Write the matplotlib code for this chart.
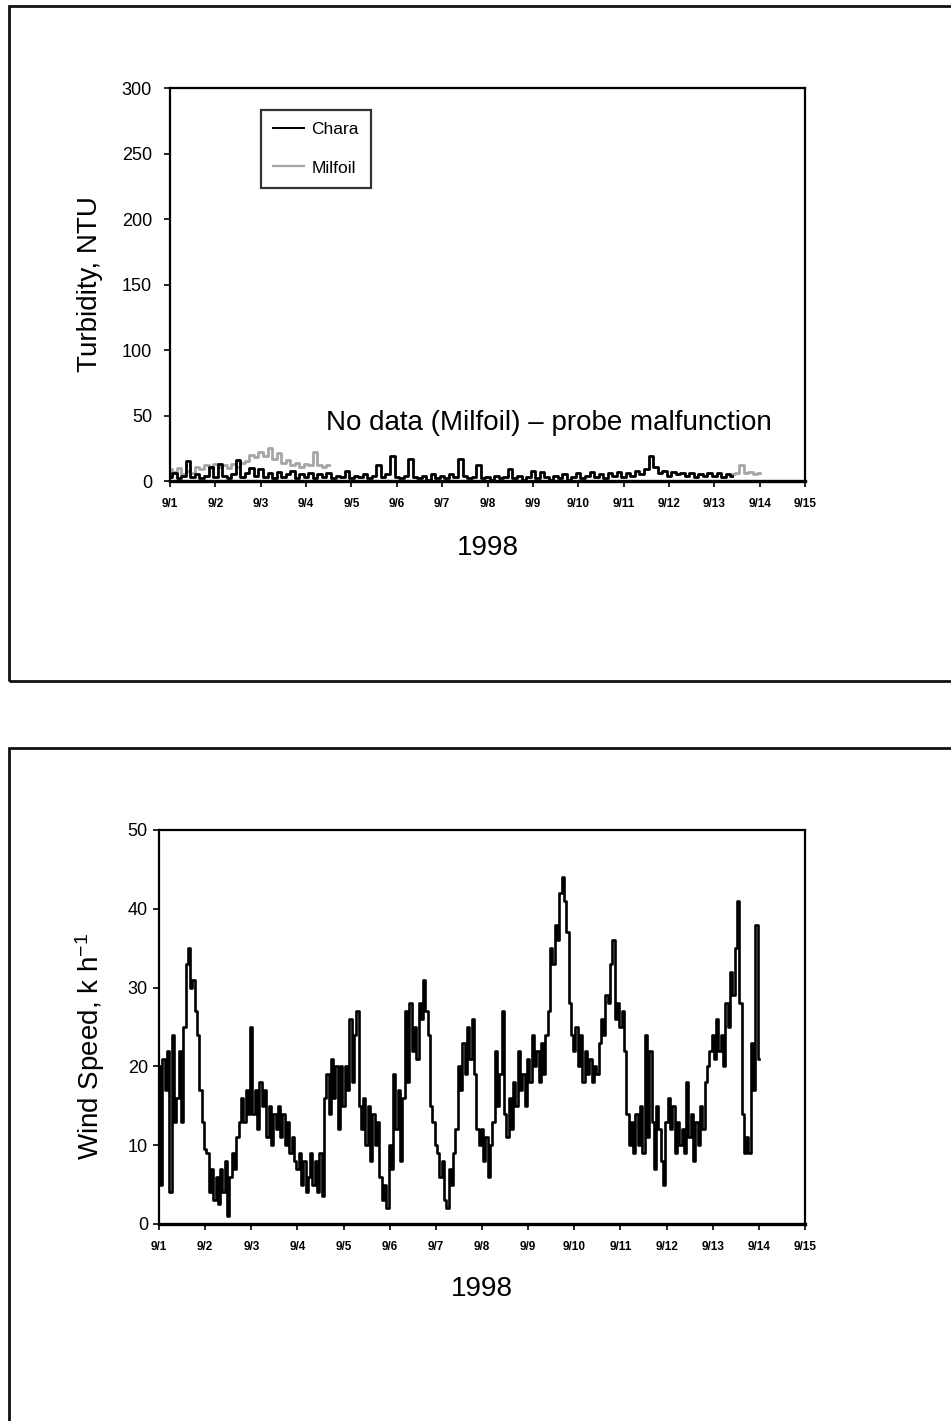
import numpy as np
import matplotlib
matplotlib.use('Agg')
import matplotlib.pyplot as plt
from matplotlib.patches import Rectangle
from matplotlib.lines import Line2D

plt.rcParams['font.family'] = ['Liberation Sans', 'DejaVu Sans']
plt.rcParams['mathtext.default'] = 'regular'

# ---------------- data ----------------
date_labels = ['9/1', '9/2', '9/3', '9/4', '9/5', '9/6', '9/7', '9/8',
               '9/9', '9/10', '9/11', '9/12', '9/13', '9/14', '9/15']
year_label = '1998'

# Turbidity (NTU), sampled every 0.1 day from 9/1
turb_step = 0.1
chara_start = 0.0
chara = [3, 6, 2, 4, 15, 3, 5, 2, 4, 11,
         3, 13, 4, 2, 5, 16, 3, 6, 10, 4,
         9, 3, 6, 2, 7, 3, 5, 8, 2, 5,
         3, 6, 2, 5, 3, 6, 2, 4, 3, 8,
         2, 4, 3, 5, 2, 4, 12, 3, 5, 19,
         3, 2, 4, 17, 3, 2, 4, 1, 5, 2,
         4, 2, 5, 3, 17, 4, 2, 3, 12, 2,
         3, 1, 4, 2, 3, 9, 2, 4, 1, 3,
         8, 2, 7, 3, 1, 4, 2, 5, 1, 3,
         6, 2, 4, 7, 3, 5, 2, 6, 4, 7,
         3, 6, 4, 8, 5, 9, 19, 11, 6, 8,
         4, 7, 5, 6, 4, 6, 3, 5, 4, 6,
         4, 6, 3, 5, 4]
milfoil_a_start = 0.0
milfoil_a = [9, 7, 10, 5, 8, 6, 11, 9, 12, 10,
             13, 11, 12, 10, 13, 11, 14, 15, 20, 18,
             22, 19, 25, 17, 21, 14, 16, 12, 14, 11,
             13, 12, 22, 12, 11, 12]
milfoil_b_start = 12.4
milfoil_b = [5, 6, 12, 6, 7, 5, 6]
turb_yticks = [0, 50, 100, 150, 200, 250, 300]
turb_note = 'No data (Milfoil) \u2013 probe malfunction'

# Wind speed (k/h), sampled every 0.05 day from 9/1
wind_start = 0.0
wind_step = 0.05
wind = [20, 5, 21, 17, 22, 4, 24, 13, 16, 22, 13, 25, 33, 35, 30, 31, 27, 24, 17, 13,
        9.5, 9, 4, 7, 3, 6, 2.5, 7, 4, 8, 1, 6, 9, 7, 11, 13, 16, 13, 17, 14,
        25, 14, 17, 12, 18, 15, 17, 11, 15, 10, 14, 12, 15, 11, 14, 10, 13, 9, 11, 8,
        7, 9, 5, 8, 4, 6, 9, 5, 8, 4, 9, 3.5, 16, 19, 14, 21, 16, 20, 12, 20,
        15, 20, 17, 26, 18, 24, 27, 15, 12, 16, 10, 15, 8, 14, 10, 13, 6, 3, 5, 2,
        10, 7, 19, 12, 17, 8, 16, 27, 18, 28, 22, 25, 21, 28, 26, 31, 27, 24, 15, 13,
        10, 9, 6, 8, 3, 2, 7, 5, 9, 12, 20, 17, 23, 19, 25, 21, 26, 19, 12, 10,
        12, 8, 11, 6, 10, 13, 22, 15, 19, 27, 14, 11, 16, 12, 18, 15, 22, 17, 19, 15,
        21, 18, 24, 20, 22, 18, 23, 19, 24, 27, 35, 33, 38, 36, 42, 44, 41, 37, 28, 24,
        22, 25, 20, 24, 18, 22, 19, 21, 18, 20, 19, 23, 26, 24, 29, 28, 33, 36, 26, 28,
        25, 27, 22, 14, 10, 13, 9, 14, 10, 15, 9, 24, 11, 22, 13, 7, 15, 12, 8, 5,
        13, 16, 12, 15, 9, 13, 10, 12, 9, 18, 11, 14, 8, 13, 10, 15, 12, 18, 20, 22,
        24, 21, 26, 22, 24, 20, 28, 25, 32, 29, 35, 41, 28, 14, 9, 11, 9, 23, 17, 38,
        21]
wind_yticks = [0, 10, 20, 30, 40, 50]

# ---------------- figure ----------------
W, H = 951, 1421
fig = plt.figure(figsize=(W / 100, H / 100), dpi=100)
fig.patch.set_facecolor('white')

# panel frames
fig.add_artist(Rectangle((9 / W, 1 - 681 / H), 1.0, (681 - 6) / H,
                         transform=fig.transFigure, fill=False, lw=2.0,
                         ec='#111111'))
fig.add_artist(Rectangle((9 / W, -0.05), 1.0, 0.05 + 1 - 748 / H,
                         transform=fig.transFigure, fill=False, lw=2.0,
                         ec='#111111'))

ax1 = fig.add_axes([170 / W, 1 - 481 / H, 635 / W, 393 / H])
ax2 = fig.add_axes([159 / W, 1 - 1224 / H, 646 / W, 394 / H])


def days_for(start, step, n):
    return start + step * np.arange(n)


# --- turbidity panel
ax1.plot(days_for(milfoil_a_start, turb_step, len(milfoil_a)), milfoil_a,
         color='#a6a6a6', lw=2.0, drawstyle='steps-mid', zorder=2)
ax1.plot(days_for(milfoil_b_start, turb_step, len(milfoil_b)), milfoil_b,
         color='#a6a6a6', lw=2.0, drawstyle='steps-mid', zorder=2)
ax1.plot(days_for(chara_start, turb_step, len(chara)), chara,
         color='black', lw=2.0, drawstyle='steps-mid', zorder=3)
ax1.set_ylim(0, 300)
ax1.set_yticks(turb_yticks)
ax1.text(8.36, 44, turb_note, ha='center', va='center', fontsize=20)
leg_handles = [Line2D([], [], color='black', lw=1.4),
               Line2D([], [], color='#a6a6a6', lw=1.6)]
leg = ax1.legend(leg_handles, ['Chara', 'Milfoil'], loc='upper left',
                 bbox_to_anchor=(0.143, 0.945), fontsize=12.5, frameon=True,
                 fancybox=False, borderpad=0.7, labelspacing=1.35,
                 handlelength=1.8, handletextpad=0.4, borderaxespad=0)
leg.get_frame().set_edgecolor('black')
leg.get_frame().set_linewidth(1.6)
ax1.set_ylabel('Turbidity, NTU', fontsize=20, va='center')
ax1.yaxis.set_label_coords(-0.126, 0.5)
ax1.set_xlabel(year_label, fontsize=20, va='center')
ax1.xaxis.set_label_coords(0.5, -0.17)

# --- wind panel
ax2.plot(days_for(wind_start, wind_step, len(wind)), wind,
         color='black', lw=1.9, drawstyle='steps-mid')
ax2.set_ylim(0, 50)
ax2.set_yticks(wind_yticks)
ax2.set_ylabel(r'Wind Speed, k h$^{-1}$', fontsize=20, va='center')
ax2.yaxis.set_label_coords(-0.107, 0.45)
ax2.set_xlabel(year_label, fontsize=20, va='center')
ax2.xaxis.set_label_coords(0.5, -0.165)

for ax, ypad in ((ax1, 9), (ax2, 4)):
    ax.set_xlim(0, len(date_labels) - 1)
    ax.set_xticks(np.arange(len(date_labels)))
    ax.set_xticklabels(date_labels)
    for t in ax.get_xticklabels():
        t.set_fontweight('bold')
    ax.tick_params(axis='x', direction='out', length=4, width=1.2,
                   pad=8, labelsize=8.5)
    ax.tick_params(axis='y', direction='out', length=4, width=1.2,
                   pad=ypad, labelsize=13)
    for s in ax.spines.values():
        s.set_linewidth(1.6)
    ax.spines['bottom'].set_linewidth(2.4)
    ax.set_facecolor('white')

fig.savefig('out.png', dpi=100, facecolor='white')
